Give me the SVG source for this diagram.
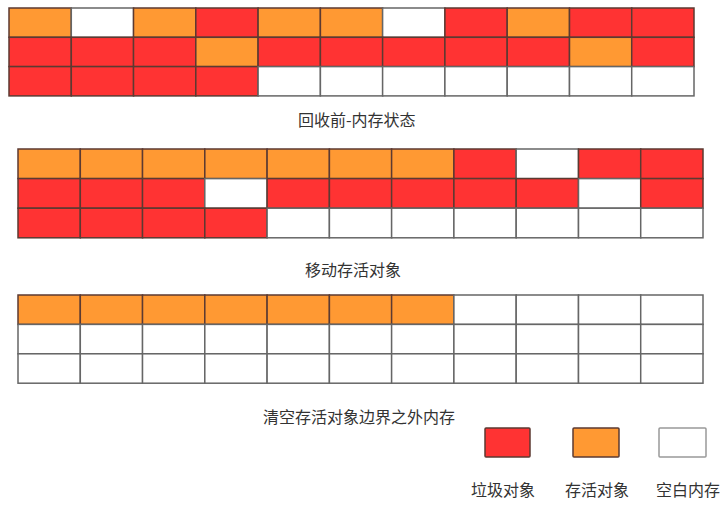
<svg xmlns="http://www.w3.org/2000/svg" width="727" height="507" viewBox="0 0 727 507">
<style>
.r{fill:#FF3333;stroke:#5c3a32;stroke-width:1.5}
.o{fill:#FF9933;stroke:#5c3a32;stroke-width:1.5}
.w{fill:#FFFFFF;stroke:#666666;stroke-width:1.5}
text{font-family:"Noto Sans CJK SC","Microsoft YaHei",sans-serif;font-size:16px;fill:#333333}
</style>
<defs>
<rect id="c" width="62.3" height="29.3"/>
</defs>
<rect width="727" height="507" fill="#FFFFFF"/>
<g id="grid1">
<!-- row1 -->
<rect class="o" x="9" y="8" width="62.3" height="29.3"/>
<rect class="w" x="71.3" y="8" width="62.3" height="29.3"/>
<rect class="o" x="133.5" y="8" width="62.3" height="29.3"/>
<rect class="r" x="195.8" y="8" width="62.3" height="29.3"/>
<rect class="o" x="258.1" y="8" width="62.3" height="29.3"/>
<rect class="o" x="320.4" y="8" width="62.3" height="29.3"/>
<rect class="w" x="382.6" y="8" width="62.3" height="29.3"/>
<rect class="r" x="444.9" y="8" width="62.3" height="29.3"/>
<rect class="o" x="507.2" y="8" width="62.3" height="29.3"/>
<rect class="r" x="569.5" y="8" width="62.3" height="29.3"/>
<rect class="r" x="631.7" y="8" width="62.3" height="29.3"/>
<!-- row2 -->
<rect class="r" x="9" y="37.3" width="62.3" height="29.3"/>
<rect class="r" x="71.3" y="37.3" width="62.3" height="29.3"/>
<rect class="r" x="133.5" y="37.3" width="62.3" height="29.3"/>
<rect class="o" x="195.8" y="37.3" width="62.3" height="29.3"/>
<rect class="r" x="258.1" y="37.3" width="62.3" height="29.3"/>
<rect class="r" x="320.4" y="37.3" width="62.3" height="29.3"/>
<rect class="r" x="382.6" y="37.3" width="62.3" height="29.3"/>
<rect class="r" x="444.9" y="37.3" width="62.3" height="29.3"/>
<rect class="r" x="507.2" y="37.3" width="62.3" height="29.3"/>
<rect class="o" x="569.5" y="37.3" width="62.3" height="29.3"/>
<rect class="r" x="631.7" y="37.3" width="62.3" height="29.3"/>
<!-- row3 -->
<rect class="r" x="9" y="66.6" width="62.3" height="29.3"/>
<rect class="r" x="71.3" y="66.6" width="62.3" height="29.3"/>
<rect class="r" x="133.5" y="66.6" width="62.3" height="29.3"/>
<rect class="r" x="195.8" y="66.6" width="62.3" height="29.3"/>
<rect class="w" x="258.1" y="66.6" width="62.3" height="29.3"/>
<rect class="w" x="320.4" y="66.6" width="62.3" height="29.3"/>
<rect class="w" x="382.6" y="66.6" width="62.3" height="29.3"/>
<rect class="w" x="444.9" y="66.6" width="62.3" height="29.3"/>
<rect class="w" x="507.2" y="66.6" width="62.3" height="29.3"/>
<rect class="w" x="569.5" y="66.6" width="62.3" height="29.3"/>
<rect class="w" x="631.7" y="66.6" width="62.3" height="29.3"/>
</g>
<text id="label1" x="298" y="126">回收前-内存状态</text>
<g id="grid2">
<!-- row1 -->
<rect class="o" x="18" y="149" width="62.3" height="29.6"/>
<rect class="o" x="80.3" y="149" width="62.3" height="29.6"/>
<rect class="o" x="142.5" y="149" width="62.3" height="29.6"/>
<rect class="o" x="204.8" y="149" width="62.3" height="29.6"/>
<rect class="o" x="267.1" y="149" width="62.3" height="29.6"/>
<rect class="o" x="329.4" y="149" width="62.3" height="29.6"/>
<rect class="o" x="391.6" y="149" width="62.3" height="29.6"/>
<rect class="r" x="453.9" y="149" width="62.3" height="29.6"/>
<rect class="w" x="516.2" y="149" width="62.3" height="29.6"/>
<rect class="r" x="578.5" y="149" width="62.3" height="29.6"/>
<rect class="r" x="640.7" y="149" width="62.3" height="29.6"/>
<!-- row2 -->
<rect class="r" x="18" y="178.6" width="62.3" height="29.6"/>
<rect class="r" x="80.3" y="178.6" width="62.3" height="29.6"/>
<rect class="r" x="142.5" y="178.6" width="62.3" height="29.6"/>
<rect class="w" x="204.8" y="178.6" width="62.3" height="29.6"/>
<rect class="r" x="267.1" y="178.6" width="62.3" height="29.6"/>
<rect class="r" x="329.4" y="178.6" width="62.3" height="29.6"/>
<rect class="r" x="391.6" y="178.6" width="62.3" height="29.6"/>
<rect class="r" x="453.9" y="178.6" width="62.3" height="29.6"/>
<rect class="r" x="516.2" y="178.6" width="62.3" height="29.6"/>
<rect class="w" x="578.5" y="178.6" width="62.3" height="29.6"/>
<rect class="r" x="640.7" y="178.6" width="62.3" height="29.6"/>
<!-- row3 -->
<rect class="r" x="18" y="208.2" width="62.3" height="29.6"/>
<rect class="r" x="80.3" y="208.2" width="62.3" height="29.6"/>
<rect class="r" x="142.5" y="208.2" width="62.3" height="29.6"/>
<rect class="r" x="204.8" y="208.2" width="62.3" height="29.6"/>
<rect class="w" x="267.1" y="208.2" width="62.3" height="29.6"/>
<rect class="w" x="329.4" y="208.2" width="62.3" height="29.6"/>
<rect class="w" x="391.6" y="208.2" width="62.3" height="29.6"/>
<rect class="w" x="453.9" y="208.2" width="62.3" height="29.6"/>
<rect class="w" x="516.2" y="208.2" width="62.3" height="29.6"/>
<rect class="w" x="578.5" y="208.2" width="62.3" height="29.6"/>
<rect class="w" x="640.7" y="208.2" width="62.3" height="29.6"/>
</g>
<text id="label2" x="305" y="276">移动存活对象</text>
<g id="grid3">
<!-- row1 -->
<rect class="o" x="18" y="295" width="62.3" height="29.4"/>
<rect class="o" x="80.3" y="295" width="62.3" height="29.4"/>
<rect class="o" x="142.5" y="295" width="62.3" height="29.4"/>
<rect class="o" x="204.8" y="295" width="62.3" height="29.4"/>
<rect class="o" x="267.1" y="295" width="62.3" height="29.4"/>
<rect class="o" x="329.4" y="295" width="62.3" height="29.4"/>
<rect class="o" x="391.6" y="295" width="62.3" height="29.4"/>
<rect class="w" x="453.9" y="295" width="62.3" height="29.4"/>
<rect class="w" x="516.2" y="295" width="62.3" height="29.4"/>
<rect class="w" x="578.5" y="295" width="62.3" height="29.4"/>
<rect class="w" x="640.7" y="295" width="62.3" height="29.4"/>
<!-- row2 -->
<rect class="w" x="18" y="324.4" width="62.3" height="29.4"/>
<rect class="w" x="80.3" y="324.4" width="62.3" height="29.4"/>
<rect class="w" x="142.5" y="324.4" width="62.3" height="29.4"/>
<rect class="w" x="204.8" y="324.4" width="62.3" height="29.4"/>
<rect class="w" x="267.1" y="324.4" width="62.3" height="29.4"/>
<rect class="w" x="329.4" y="324.4" width="62.3" height="29.4"/>
<rect class="w" x="391.6" y="324.4" width="62.3" height="29.4"/>
<rect class="w" x="453.9" y="324.4" width="62.3" height="29.4"/>
<rect class="w" x="516.2" y="324.4" width="62.3" height="29.4"/>
<rect class="w" x="578.5" y="324.4" width="62.3" height="29.4"/>
<rect class="w" x="640.7" y="324.4" width="62.3" height="29.4"/>
<!-- row3 -->
<rect class="w" x="18" y="353.8" width="62.3" height="29.4"/>
<rect class="w" x="80.3" y="353.8" width="62.3" height="29.4"/>
<rect class="w" x="142.5" y="353.8" width="62.3" height="29.4"/>
<rect class="w" x="204.8" y="353.8" width="62.3" height="29.4"/>
<rect class="w" x="267.1" y="353.8" width="62.3" height="29.4"/>
<rect class="w" x="329.4" y="353.8" width="62.3" height="29.4"/>
<rect class="w" x="391.6" y="353.8" width="62.3" height="29.4"/>
<rect class="w" x="453.9" y="353.8" width="62.3" height="29.4"/>
<rect class="w" x="516.2" y="353.8" width="62.3" height="29.4"/>
<rect class="w" x="578.5" y="353.8" width="62.3" height="29.4"/>
<rect class="w" x="640.7" y="353.8" width="62.3" height="29.4"/>
</g>
<text id="label3" x="263" y="423">清空存活对象边界之外内存</text>
<g id="legend-garbage">
<rect class="r" x="485" y="428" width="45" height="29" rx="1"/>
<text x="471" y="496">垃圾对象</text>
</g>
<g id="legend-live">
<rect class="o" x="573" y="428" width="46" height="29" rx="1"/>
<text x="565" y="496">存活对象</text>
</g>
<g id="legend-empty">
<rect class="w" x="659" y="428" width="47" height="29" rx="1" style="stroke:#999999"/>
<text x="656" y="496">空白内存</text>
</g>
<g id="connectors"/>
</svg>
